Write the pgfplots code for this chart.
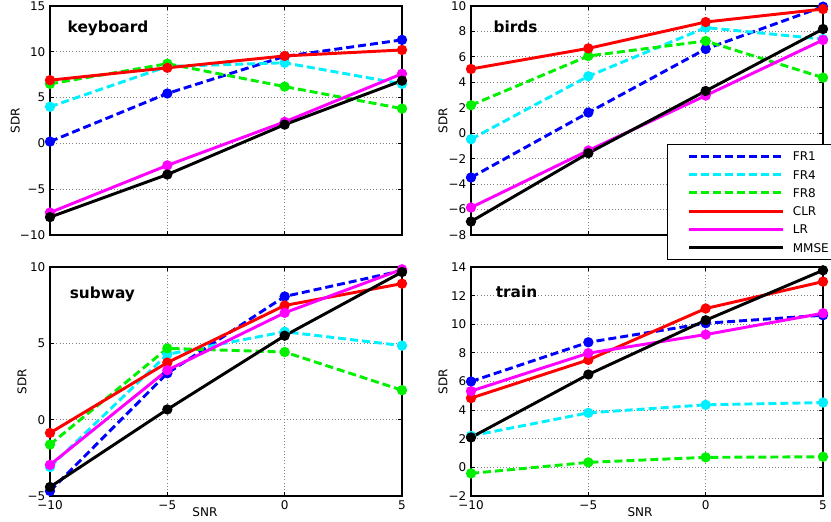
\documentclass[border=0pt]{standalone}
\usepackage{pgfplots}
\pgfplotsset{compat=1.18}
\usepackage{fontspec}
\setmainfont{DejaVu Sans}

\definecolor{cfr1}{RGB}{0,0,255}
\definecolor{cfr4}{RGB}{0,240,255}
\definecolor{cfr8}{RGB}{0,240,0}
\definecolor{cclr}{RGB}{255,0,0}
\definecolor{clr}{RGB}{255,0,255}
\definecolor{cmmse}{RGB}{0,0,0}

\tikzset{paneltitle/.style={anchor=west, font=\bfseries\fontsize{11.5}{12}\selectfont}}

\pgfplotsset{
  panel/.style={
    scale only axis, width=264pt, height=171.75pt,
    xmin=-10, xmax=5, xtick={-10,-5,0,5},
    grid=major, grid style={dotted, gray, line width=0.6pt},
    axis line style={line width=1pt},
    tick style={black, line width=0.6pt}, tick align=inside, major tick length=3pt,
    ticklabel style={font=\fontsize{9}{10}\selectfont},
    ylabel={SDR},
    ylabel style={at={([xshift=-#1]axis description cs:0,0.5)}, anchor=center, font=\fontsize{9}{10}\selectfont},
    clip=false,
  },
  panel/.default=21pt,
  bottomrow/.style={xticklabels={−10,−5,0,5}, xlabel={SNR},
    xlabel style={at={(axis description cs:#1,0)}, anchor=center, yshift=-12pt, font=\fontsize{9}{10}\selectfont}},
  toprow/.style={xticklabels={}},
  fr1/.style={cfr1, line width=2.2pt, dash pattern=on 6pt off 3pt, mark=*, mark size=2.7pt, mark options={solid}},
  fr4/.style={cfr4, line width=2.2pt, dash pattern=on 6pt off 3pt, mark=*, mark size=2.7pt, mark options={solid}},
  fr8/.style={cfr8, line width=2.2pt, dash pattern=on 6pt off 3pt, mark=*, mark size=2.7pt, mark options={solid}},
  clrs/.style={cclr, line width=2.2pt, mark=*, mark size=2.7pt},
  lrs/.style={clr, line width=2.2pt, mark=*, mark size=2.7pt},
  mmses/.style={cmmse, line width=2.2pt, mark=*, mark size=2.7pt},
}

\begin{document}
\begin{tikzpicture}
\useasboundingbox (0,0) rectangle (623.25pt,390.75pt);

% keyboard
\begin{axis}[panel=26pt, toprow, at={(37.5pt,214.5pt)}, anchor=south west,
  ymin=-10, ymax=15, ytick={-10,-5,0,5,10,15}, yticklabels={−10,−5,0,5,10,15}]
\addplot[fr1] coordinates {(-10,0.2) (-5,5.45) (0,9.5) (5,11.3)};
\addplot[fr4] coordinates {(-10,4.0) (-5,8.4) (0,8.8) (5,6.5)};
\addplot[fr8] coordinates {(-10,6.5) (-5,8.7) (0,6.2) (5,3.8)};
\addplot[clrs] coordinates {(-10,6.9) (-5,8.25) (0,9.55) (5,10.2)};
\addplot[lrs] coordinates {(-10,-7.55) (-5,-2.4) (0,2.35) (5,7.6)};
\addplot[mmses] coordinates {(-10,-8.05) (-5,-3.4) (0,2.05) (5,6.85)};
\node[paneltitle] at (rel axis cs:0.037,0.904) {keyboard};
\end{axis}

% subway
\begin{axis}[panel, bottomrow=0.44, at={(37.5pt,18.75pt)}, anchor=south west,
  ymin=-5, ymax=10, ytick={-5,0,5,10}, yticklabels={−5,0,5,10}]
\addplot[fr1] coordinates {(-10,-4.67) (-5,3.04) (0,8.07) (5,9.76)};
\addplot[fr4] coordinates {(-10,-3.1) (-5,4.28) (0,5.76) (5,4.85)};
\addplot[fr8] coordinates {(-10,-1.63) (-5,4.67) (0,4.43) (5,1.93)};
\addplot[clrs] coordinates {(-10,-0.87) (-5,3.74) (0,7.48) (5,8.91)};
\addplot[lrs] coordinates {(-10,-2.96) (-5,3.24) (0,7.0) (5,9.85)};
\addplot[mmses] coordinates {(-10,-4.41) (-5,0.67) (0,5.5) (5,9.67)};
\node[paneltitle] at (rel axis cs:0.043,0.882) {subway};
\end{axis}

% train
\begin{axis}[panel, bottomrow=0.48, at={(353.25pt,18.75pt)}, anchor=south west,
  ymin=-2, ymax=14, ytick={-2,0,2,4,6,8,10,12,14}, yticklabels={−2,0,2,4,6,8,10,12,14}]
\addplot[fr1] coordinates {(-10,6.0) (-5,8.74) (0,10.07) (5,10.63)};
\addplot[fr4] coordinates {(-10,2.2) (-5,3.81) (0,4.37) (5,4.53)};
\addplot[fr8] coordinates {(-10,-0.42) (-5,0.35) (0,0.7) (5,0.74)};
\addplot[clrs] coordinates {(-10,4.84) (-5,7.51) (0,11.1) (5,12.98)};
\addplot[lrs] coordinates {(-10,5.33) (-5,7.98) (0,9.28) (5,10.77)};
\addplot[mmses] coordinates {(-10,2.09) (-5,6.49) (0,10.28) (5,13.77)};
\node[paneltitle] at (rel axis cs:0.057,0.89) {train};
\end{axis}

% birds (with legend)
\begin{axis}[panel, toprow, at={(353.25pt,214.5pt)}, anchor=south west,
  ymin=-8, ymax=10, ytick={-8,-6,-4,-2,0,2,4,6,8,10}, yticklabels={−8,−6,−4,−2,0,2,4,6,8,10},
  legend cell align=left,
  legend image code/.code={\path (0pt,0pt); \draw[#1] (11pt,0pt) -- (81.5pt,0pt);},
  legend style={at={(0.558,0.397)}, anchor=north west, draw=black, line width=0.8pt, fill=white,
    font=\fontsize{9}{10}\selectfont, inner xsep=4pt, inner ysep=5.5pt, row sep=7pt, column sep=6pt,
    nodes={inner sep=0pt, text height=6.7pt, text depth=0pt}}]
\addplot[fr1] coordinates {(-10,-3.48) (-5,1.62) (0,6.62) (5,9.95)};
\addlegendentry{FR1}
\addplot[fr4] coordinates {(-10,-0.47) (-5,4.48) (0,8.3) (5,7.4)};
\addlegendentry{FR4}
\addplot[fr8] coordinates {(-10,2.2) (-5,6.07) (0,7.25) (5,4.37)};
\addlegendentry{FR8}
\addplot[clrs] coordinates {(-10,5.05) (-5,6.67) (0,8.74) (5,9.76)};
\addlegendentry{CLR}
\addplot[lrs] coordinates {(-10,-5.84) (-5,-1.36) (0,2.96) (5,7.33)};
\addlegendentry{LR}
\addplot[mmses] coordinates {(-10,-6.94) (-5,-1.57) (0,3.32) (5,8.19)};
\addlegendentry{MMSE}
\node[paneltitle] at (rel axis cs:0.051,0.908) {birds};
\end{axis}
\end{tikzpicture}
\end{document}
